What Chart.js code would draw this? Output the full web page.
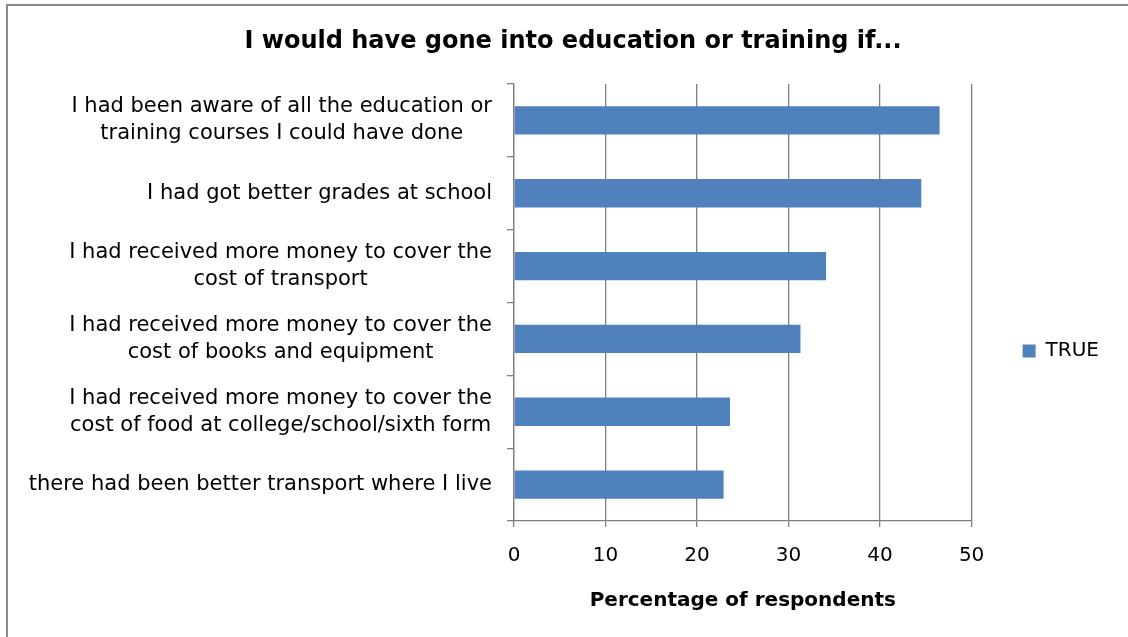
<!DOCTYPE html>
<html>
<head>
<meta charset="utf-8">
<title>I would have gone into education or training if...</title>
<script src="https://cdn.jsdelivr.net/npm/chart.js@4.4.1/dist/chart.umd.min.js"></script>
<style>
    html, body { margin: 0; padding: 0; background: #fff; overflow: hidden; }
    #wrap { position: relative; width: 1128px; height: 637px; }
    #frame {
        position: absolute; left: 6px; top: 4px; width: 1140px; height: 660px;
        border: 2px solid #8a8a8a; pointer-events: none;
    }
</style>
</head>
<body>
<div id="wrap">
    <canvas id="myChart"></canvas>
    <div id="frame"></div>
</div>
<script>
// categories, split into the lines Excel wrapped them on
const categories = [
    ['I had been aware of all the education or', 'training courses I could have done'],
    ['I had got better grades at school'],
    ['I had received more money to cover the', 'cost of transport'],
    ['I had received more money to cover the', 'cost of books and equipment'],
    ['I had received more money to cover the', 'cost of food at college/school/sixth form'],
    ['there had been better transport where I live']
];
const trueValues = [46.5, 44.5, 34.1, 31.3, 23.6, 22.9];
const xTicks = [0, 10, 20, 30, 40, 50];

const fontFamily = '"DejaVu Sans", "Liberation Sans", Arial, sans-serif';
const textColor = '#000';
const gridColor = '#7f7f7f';
const barColor = '#4F81BD';

Chart.defaults.font.family = fontFamily;
Chart.defaults.color = textColor;

// y labels drawn by hand: Excel right-aligns each label block but centres its wrapped lines
const categoryLabels = {
    id: 'categoryLabels',
    afterDraw(chart) {
        const yScale = chart.scales.y;
        const ctx = chart.ctx;
        const right = yScale.right - 22;
        ctx.save();
        ctx.font = '21px ' + fontFamily;
        ctx.fillStyle = textColor;
        ctx.textAlign = 'center';
        ctx.textBaseline = 'middle';
        categories.forEach((lines, i) => {
            const y = yScale.getPixelForValue(i);
            const widest = Math.max(...lines.map(l => ctx.measureText(l).width));
            const x = right - widest / 2;
            lines.forEach((line, k) => {
                ctx.fillText(line, x, y + (k - (lines.length - 1) / 2) * 27);
            });
        });
        ctx.restore();
    }
};

const ctx = document.getElementById('myChart').getContext('2d');
const myChart = new Chart(ctx, {
    type: 'bar',
    data: {
        labels: categories.map(lines => lines.join(' ')),
        datasets: [
            {
                label: 'TRUE',
                data: trueValues,
                backgroundColor: barColor,
                borderWidth: 0,
                categoryPercentage: 1,
                barPercentage: 0.39
            }
        ]
    },
    options: {
        indexAxis: 'y',
        responsive: true,
        maintainAspectRatio: false,
        animation: false,
        layout: {
            padding: { left: 37, right: 19, top: 0, bottom: 0 }
        },
        scales: {
            x: {
                min: 0,
                max: 50,
                afterBuildTicks(scale) {
                    scale.ticks = xTicks.map(v => ({ value: v }));
                },
                afterFit(scale) {
                    scale.height = 116;
                },
                grid: {
                    color: gridColor,
                    lineWidth: 1.3,
                    tickLength: 6
                },
                border: { color: gridColor, width: 1.3 },
                ticks: {
                    padding: 17,
                    font: { size: 20 },
                    color: textColor
                },
                title: {
                    display: true,
                    text: 'Percentage of respondents',
                    font: { size: 20, weight: 'bold' },
                    color: textColor,
                    padding: { top: 0, bottom: 24 }
                }
            },
            y: {
                afterFit(scale) {
                    scale.width = 514 - 37;
                },
                grid: {
                    drawOnChartArea: false,
                    color: gridColor,
                    lineWidth: 1.3,
                    tickLength: 7
                },
                border: { color: gridColor, width: 1.3 },
                ticks: { display: false }
            }
        },
        plugins: {
            title: {
                display: true,
                text: 'I would have gone into education or training if...',
                font: { size: 24, weight: 'bold' },
                color: textColor,
                padding: { top: 27.6, bottom: 27.6 }
            },
            legend: {
                position: 'right',
                labels: {
                    boxWidth: 13,
                    boxHeight: 13,
                    padding: 51,
                    font: { size: 20 },
                    color: textColor
                },
                // empty title only pushes the entry down to where Excel put it
                title: {
                    display: true,
                    text: '',
                    font: { size: 20 },
                    padding: { top: 41, bottom: 0 }
                }
            },
            tooltip: { enabled: false }
        }
    },
    plugins: [categoryLabels]
});
</script>
</body>
</html>
